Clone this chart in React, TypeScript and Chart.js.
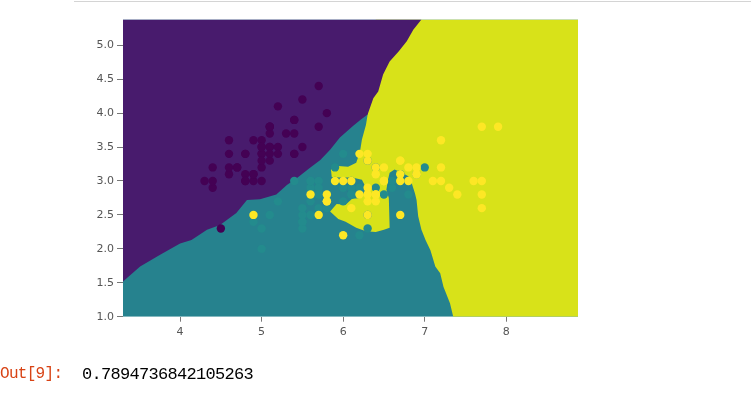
import React, { useEffect, useRef } from "react";
import { Chart, registerables } from "chart.js";

Chart.register(...registerables);

// axis ranges / ticks
const xRange = [3.3, 8.88];
const yRange = [1.0, 5.38];
const xTicks = [4, 5, 6, 7, 8];
const yTicks = [1.0, 1.5, 2.0, 2.5, 3.0, 3.5, 4.0, 4.5, 5.0];

// decision regions (sepal length, sepal width)
const tealRegion: [number, number][] = [
  [3.3, 1.0], [8.88, 1.0], [8.88, 5.38], [3.3, 5.38], [3.3, 1.0],
];

const purpleRegion: [number, number][] = [
  [3.3, 5.38], [3.3, 1.52], [3.51, 1.74], [3.75, 1.91], [4.0, 2.08], [4.14, 2.13],
  [4.33, 2.28], [4.49, 2.35], [4.69, 2.53], [4.82, 2.72], [4.98, 2.73], [5.18, 2.8],
  [5.31, 2.94], [5.43, 3.04], [5.59, 3.19], [5.72, 3.31], [5.84, 3.46], [5.96, 3.64],
  [6.12, 3.81], [6.21, 3.9], [6.3, 3.98], [6.37, 4.22], [6.43, 4.32], [6.49, 4.57],
  [6.57, 4.76], [6.68, 4.91], [6.78, 5.06], [6.86, 5.23], [6.96, 5.38], [3.3, 5.38],
];

const yellowRegion: [number, number][] = [
  [8.88, 1.0], [7.35, 1.0], [7.31, 1.2], [7.23, 1.44], [7.19, 1.64], [7.13, 1.74],
  [7.07, 1.98], [7.01, 2.13], [6.96, 2.28], [6.92, 2.48], [6.9, 2.72], [6.88, 2.82],
  [6.84, 2.97], [6.8, 3.07], [6.72, 3.12], [6.63, 3.17], [6.57, 3.12], [6.55, 3.02],
  [6.53, 2.87], [6.56, 2.75], [6.57, 2.31], [6.5, 2.28], [6.4, 2.25], [6.28, 2.26],
  [6.16, 2.31], [6.03, 2.4], [5.94, 2.44], [5.84, 2.55], [5.92, 2.66], [6.03, 2.65],
  [6.11, 2.74], [6.23, 2.75], [6.28, 2.9], [6.23, 3.02], [6.11, 3.05], [5.96, 3.05],
  [5.86, 3.06], [5.85, 3.17], [5.94, 3.22], [6.06, 3.21], [6.16, 3.27], [6.18, 3.34],
  [6.21, 3.46], [6.23, 3.61], [6.28, 3.83], [6.3, 3.98], [6.4, 5.38], [8.88, 5.38],
  [8.88, 1.0],
];

// iris samples (sepal length, sepal width)
const setosa: [number, number][] = [
  [5.1, 3.5], [4.9, 3.0], [4.7, 3.2], [4.6, 3.1], [5.0, 3.6], [5.4, 3.9], [4.6, 3.4],
  [5.0, 3.4], [4.4, 2.9], [4.9, 3.1], [5.4, 3.7], [4.8, 3.4], [4.8, 3.0], [4.3, 3.0],
  [5.8, 4.0], [5.7, 4.4], [5.4, 3.9], [5.1, 3.5], [5.7, 3.8], [5.1, 3.8], [5.4, 3.4],
  [5.1, 3.7], [4.6, 3.6], [5.1, 3.3], [4.8, 3.4], [5.0, 3.0], [5.0, 3.4], [5.2, 3.5],
  [5.2, 3.4], [4.7, 3.2], [4.8, 3.1], [5.4, 3.4], [5.2, 4.1], [5.5, 4.2], [4.9, 3.1],
  [5.0, 3.2], [5.5, 3.5], [4.9, 3.6], [4.4, 3.0], [5.1, 3.4], [5.0, 3.5], [4.5, 2.3],
  [4.4, 3.2], [5.0, 3.5], [5.1, 3.8], [4.8, 3.0], [5.1, 3.8], [4.6, 3.2], [5.3, 3.7],
  [5.0, 3.3],
];
const versicolor: [number, number][] = [
  [7.0, 3.2], [6.4, 3.2], [6.9, 3.1], [5.5, 2.3], [6.5, 2.8], [5.7, 2.8], [6.3, 3.3],
  [4.9, 2.4], [6.6, 2.9], [5.2, 2.7], [5.0, 2.0], [5.9, 3.0], [6.0, 2.2], [6.1, 2.9],
  [5.6, 2.9], [6.7, 3.1], [5.6, 3.0], [5.8, 2.7], [6.2, 2.2], [5.6, 2.5], [5.9, 3.2],
  [6.1, 2.8], [6.3, 2.5], [6.1, 2.8], [6.4, 2.9], [6.6, 3.0], [6.8, 2.8], [6.7, 3.0],
  [6.0, 2.9], [5.7, 2.6], [5.5, 2.4], [5.5, 2.4], [5.8, 2.7], [6.0, 2.7], [5.4, 3.0],
  [6.0, 3.4], [6.7, 3.1], [6.3, 2.3], [5.6, 3.0], [5.5, 2.5], [5.5, 2.6], [6.1, 3.0],
  [5.8, 2.6], [5.0, 2.3], [5.6, 2.7], [5.7, 3.0], [5.7, 2.9], [6.2, 2.9], [5.1, 2.5],
  [5.7, 2.8],
];
const virginica: [number, number][] = [
  [6.3, 3.3], [5.8, 2.7], [7.1, 3.0], [6.3, 2.9], [6.5, 3.0], [7.6, 3.0], [4.9, 2.5],
  [7.3, 2.9], [6.7, 2.5], [7.2, 3.6], [6.5, 3.2], [6.4, 2.7], [6.8, 3.0], [5.7, 2.5],
  [5.8, 2.8], [6.4, 3.2], [6.5, 3.0], [7.7, 3.8], [7.7, 2.6], [6.0, 2.2], [6.9, 3.2],
  [5.6, 2.8], [7.7, 2.8], [6.3, 2.7], [6.7, 3.3], [7.2, 3.2], [6.2, 2.8], [6.1, 3.0],
  [6.4, 2.8], [7.2, 3.0], [7.4, 2.8], [7.9, 3.8], [6.4, 2.8], [6.3, 2.8], [6.1, 2.6],
  [7.7, 3.0], [6.3, 3.4], [6.4, 3.1], [6.0, 3.0], [6.9, 3.1], [6.7, 3.1], [6.9, 3.1],
  [5.8, 2.7], [6.8, 3.2], [6.7, 3.3], [6.7, 3.0], [6.3, 2.5], [6.5, 3.0], [6.2, 3.4],
  [5.9, 3.0],
];

const scoreText = "0.7894736842105263";
const promptText = "Out[9]:";

const toXY = (arr: [number, number][]) => arr.map(([x, y]) => ({ x, y }));

export default function App() {
  const ref = useRef<HTMLCanvasElement>(null);

  useEffect(() => {
    if (!ref.current) return;
    const region = (data: [number, number][], color: string, order: number) => ({
      type: "line" as const,
      data: toXY(data),
      fill: "shape",
      backgroundColor: color,
      borderColor: "rgba(0,0,0,0)",
      borderWidth: 0,
      pointRadius: 0,
      pointHoverRadius: 0,
      tension: 0,
      order,
    });
    const pts = (data: [number, number][], color: string, order: number) => ({
      type: "scatter" as const,
      data: toXY(data),
      backgroundColor: color,
      borderColor: color,
      borderWidth: 0,
      pointRadius: 4.2,
      pointHoverRadius: 4.2,
      showLine: false,
      order,
    });
    const tickFont = { family: "DejaVu Sans", size: 11 };
    const chart = new Chart(ref.current, {
      type: "scatter",
      data: {
        datasets: [
          region(tealRegion, "#26828e", 10),
          region(yellowRegion, "#d8e219", 9),
          region(purpleRegion, "#481b6d", 8),
          pts(setosa, "#440154", 3),
          pts(versicolor, "#238b8d", 2),
          pts(virginica, "#fde725", 1),
        ] as any,
      },
      options: {
        animation: false,
        responsive: false,
        events: [],
        layout: { padding: { left: 80, top: 19.5, right: 173, bottom: 47.3 } },
        plugins: { legend: { display: false }, tooltip: { enabled: false } },
        scales: {
          x: {
            type: "linear",
            min: xRange[0],
            max: xRange[1],
            afterBuildTicks: (a: any) => {
              a.ticks = xTicks.map((v) => ({ value: v }));
            },
            afterFit: (a: any) => {
              a.height = 30;
            },
            grid: { display: true, drawOnChartArea: false, drawTicks: true, tickLength: 5, color: "#777" },
            border: { display: false },
            ticks: { font: tickFont, color: "#555", padding: 4, maxRotation: 0, callback: (v: any) => String(v) },
          },
          y: {
            type: "linear",
            min: yRange[0],
            max: yRange[1],
            afterBuildTicks: (a: any) => {
              a.ticks = yTicks.map((v) => ({ value: v }));
            },
            afterFit: (a: any) => {
              a.width = 43;
            },
            grid: { display: true, drawOnChartArea: false, drawTicks: true, tickLength: 6, color: "#777" },
            border: { display: false },
            ticks: { font: tickFont, color: "#555", padding: 3, callback: (v: any) => Number(v).toFixed(1) },
          },
        },
      } as any,
    });
    return () => chart.destroy();
  }, []);

  return (
    <div style={{ position: "absolute", left: 0, top: 0, width: 751, height: 394, background: "#fff", overflow: "hidden" }}>
      <div style={{ position: "absolute", left: 74, top: 1, width: 677, height: 1, background: "#d4d4d4" }} />
      <canvas ref={ref} width={751} height={394} style={{ position: "absolute", left: 0, top: 0 }} />
      <div
        style={{
          position: "absolute",
          left: 0,
          top: 365.5,
          fontFamily: "Liberation Mono",
          fontSize: 16,
          lineHeight: 1,
          letterSpacing: -0.7,
          color: "#d84315",
          whiteSpace: "pre",
        }}
      >
        {promptText}
      </div>
      <div
        style={{
          position: "absolute",
          left: 82,
          top: 365.5,
          fontFamily: "Liberation Mono",
          fontSize: 17,
          lineHeight: 1,
          letterSpacing: -0.7,
          color: "#000",
          whiteSpace: "pre",
        }}
      >
        {scoreText}
      </div>
    </div>
  );
}
